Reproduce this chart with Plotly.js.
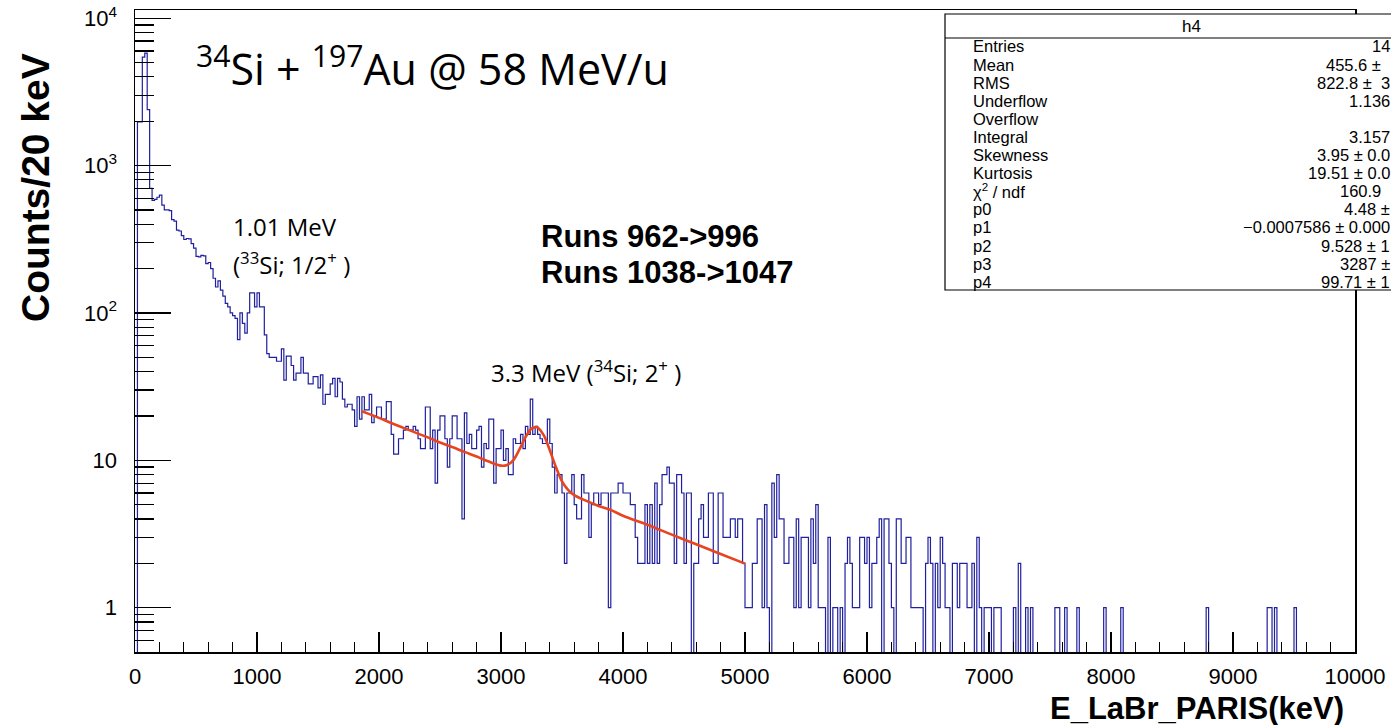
<!DOCTYPE html>
<html>
<head>
<meta charset="utf-8">
<script src="https://cdn.plot.ly/plotly-3.0.1.min.js"></script>
<style>
  html, body { margin: 0; padding: 0; background: #ffffff; }
  #chart { width: 1391px; height: 725px; }
</style>
</head>
<body>
<div id="chart"></div>
<script>
// ---------------- DATA ----------------
const binWidthKeV = 20;
// counts per 20 keV bin, bins from 0 to 10000 keV
const counts = [
  0, 1980, 1980, 5450, 5800, 2400, 700, 580, 590, 610,
  630, 540, 500, 500, 495, 430, 420, 365, 360, 335,
  315, 320, 318, 295, 275, 242, 240, 246, 244, 216,
  220, 200, 172, 150, 165, 143, 130, 116, 110, 100,
  96, 92, 66, 100, 85, 73, 100, 137, 137, 110,
  137, 110, 110, 71, 53, 50, 50, 50, 47, 47,
  57, 35, 51, 51, 44, 35, 39, 39, 50, 39,
  39, 33, 33, 37, 37, 31, 38, 24, 28, 28,
  33, 36, 27, 36, 34, 26, 23, 24, 24, 22,
  17, 27, 19, 27, 22, 22, 28, 18, 20, 23,
  23, 19, 19, 25, 25, 15, 11, 11, 14, 14,
  16, 17, 16, 16, 17, 16, 14, 12, 12, 23,
  23, 12, 16, 7, 16, 20, 20, 14, 9, 14,
  20, 20, 14, 14, 4, 21, 13, 15, 12, 12,
  16, 17, 9, 13, 12, 19, 19, 7, 12, 12,
  16, 10, 12, 8, 8, 14, 13, 13, 15, 12,
  17, 15, 26, 15, 17, 15, 14, 13, 13, 19,
  13, 9, 6, 8, 8, 6, 2, 6, 6, 8,
  5, 4, 4, 8, 6, 6, 3, 5, 6, 6,
  5, 6, 6, 6, 1, 6, 6, 6, 7, 7,
  6, 6, 6, 5, 5, 3, 2, 2, 2, 5,
  2, 5, 2, 7, 2, 5, 8, 8, 9, 7,
  7, 2, 8, 8, 6, 2, 6, 6, 0, 2,
  2, 4, 5, 3, 3, 6, 6, 2, 2, 6,
  6, 3, 3, 3, 4, 4, 3, 4, 4, 2,
  1, 1, 1, 2, 2, 4, 4, 1, 5, 1,
  0, 7, 3, 8, 4, 4, 2, 2, 3, 3,
  1, 4, 1, 3, 3, 3, 1, 4, 2, 5,
  1, 1, 1, 0, 3, 0, 1, 1, 0, 1,
  0, 2, 3, 2, 1, 1, 1, 3, 3, 2,
  3, 1, 2, 2, 3, 4, 0, 4, 4, 2,
  1, 0, 4, 4, 2, 2, 3, 3, 1, 1,
  1, 1, 1, 0, 2, 3, 2, 0, 2, 1,
  3, 2, 1, 1, 0, 2, 2, 1, 2, 2,
  2, 1, 1, 2, 0, 3, 1, 0, 1, 1,
  1, 0, 1, 1, 1, 0, 0, 0, 0, 0,
  1, 0, 2, 0, 0, 1, 0, 1, 0, 0,
  0, 0, 0, 0, 0, 0, 0, 1, 1, 0,
  0, 1, 0, 0, 0, 0, 1, 0, 0, 0,
  0, 0, 0, 0, 0, 0, 0, 1, 0, 0,
  0, 0, 0, 0, 1, 0, 0, 0, 0, 0,
  0, 0, 0, 0, 0, 0, 0, 0, 0, 0,
  0, 0, 0, 0, 0, 0, 0, 0, 0, 0,
  0, 0, 0, 0, 0, 0, 0, 0, 0, 1,
  0, 0, 0, 0, 0, 0, 0, 0, 0, 0,
  0, 0, 0, 0, 0, 0, 0, 0, 0, 0,
  0, 0, 0, 0, 1, 1, 0, 1, 0, 0,
  0, 0, 0, 0, 0, 1, 0, 0, 0, 0,
  0, 0, 0, 0, 0, 0, 0, 0, 0, 0,
  0, 0, 0, 0, 0, 0, 0, 0, 0, 0
];

// fit curve (red)
const fitEnergyKeV = [1860, 1900, 2000, 2100, 2200, 2300, 2400, 2500, 2600, 2700, 2800, 2900,
  3000, 3050, 3100, 3150, 3200, 3250, 3290, 3300, 3350, 3400, 3450, 3500, 3550, 3600,
  3700, 3800, 3900, 4000, 4200, 4400, 4600, 4800, 5000];
const fitCounts = [21.5, 20.9, 19.4, 17.9, 16.6, 15.4, 14.3, 13.2, 12.3, 11.4, 10.6, 9.8,
  9.2, 9.3, 10.0, 11.8, 14.3, 16.4, 16.8, 16.7, 14.8, 11.7, 9.0, 7.2, 6.3, 5.8,
  5.3, 4.9, 4.6, 4.2, 3.65, 3.13, 2.69, 2.31, 1.99];

// axis tick values
const xMajorTicks = [0, 1000, 2000, 3000, 4000, 5000, 6000, 7000, 8000, 9000, 10000];
const xMinorTicks = [200, 400, 600, 800, 1200, 1400, 1600, 1800, 2200, 2400, 2600, 2800,
  3200, 3400, 3600, 3800, 4200, 4400, 4600, 4800, 5200, 5400, 5600, 5800, 6200, 6400, 6600, 6800,
  7200, 7400, 7600, 7800, 8200, 8400, 8600, 8800, 9200, 9400, 9600, 9800];
const yMajorTicks = [1, 10, 100, 1000, 10000];
const yMajorLabels = ['1', '10', '10<sup>2</sup>', '10<sup>3</sup>', '10<sup>4</sup>'];
const yMinorTicks = [0.6, 0.7, 0.8, 0.9, 2, 3, 4, 5, 6, 7, 8, 9, 20, 30, 40, 50, 60, 70, 80, 90,
  200, 300, 400, 500, 600, 700, 800, 900, 2000, 3000, 4000, 5000, 6000, 7000, 8000, 9000];

// statistics box (visible part)
const statsTitle = "h4";
const statsLabels = ["Entries", "Mean", "RMS", "Underflow", "Overflow", "Integral", "Skewness",
  "Kurtosis", "χ<sup>2</sup> / ndf", "p0", "p1", "p2", "p3", "p4"];
const statsValues = ["14", "455.6 ±  ", "822.8 ±  3", "1.136", "", "3.157", "3.95 ± 0.0",
  "19.51 ± 0.0", "160.9  ", "4.48 ±", "−0.0007586 ± 0.000", "9.528 ± 1", "3287 ±", "99.71 ± 1"];

// ---------------- DRAWING ----------------
const stepX = [], stepY = [];
for (let i = 0; i < counts.length; i++) {
  stepX.push(i * binWidthKeV);
  stepY.push(counts[i] > 0 ? counts[i] : 0.1); // empty bins drop below the frame (log scale)
}
stepX.push(counts.length * binWidthKeV);
stepY.push(counts[counts.length - 1] > 0 ? counts[counts.length - 1] : 0.1);

const W = 1391, H = 725;
const L = 135, R = 1355, T = 10, B = 652;
const px = x => (x - L) / (R - L);
const py = y => (B - y) / (B - T);

const rootFont = "Liberation Sans, Arial, Helvetica, sans-serif";
const slideFont = "Open Sans, Noto Sans, sans-serif";
const yRange = [Math.log10(0.5), 4.056];
const xRange = [0, 10000];

const traces = [
  {
    x: stepX, y: stepY, type: 'scatter', mode: 'lines',
    line: { shape: 'hv', color: '#20209f', width: 1.2 },
    hoverinfo: 'skip', showlegend: false
  },
  {
    x: fitEnergyKeV, y: fitCounts, type: 'scatter', mode: 'lines',
    line: { shape: 'spline', color: '#e8441f', width: 2.6 },
    hoverinfo: 'skip', showlegend: false
  },
  // invisible helper traces so the overlay tick axes are drawn
  { x: [0], y: [1], xaxis: 'x2', yaxis: 'y2', type: 'scatter', mode: 'lines',
    line: { width: 0 }, hoverinfo: 'skip', showlegend: false },
  { x: [0], y: [1], xaxis: 'x3', yaxis: 'y3', type: 'scatter', mode: 'lines',
    line: { width: 0 }, hoverinfo: 'skip', showlegend: false }
];

const annotations = [];
// axis titles
annotations.push({
  xref: 'paper', yref: 'paper', x: px(35), y: py(188), text: '<b>Counts/20 keV</b>',
  textangle: -90, showarrow: false, xanchor: 'center', yanchor: 'middle',
  font: { family: rootFont, size: 39, color: '#000' }
});
annotations.push({
  xref: 'paper', yref: 'paper', x: px(1346), y: py(708), text: '<b>E_LaBr_PARIS(keV)</b>',
  showarrow: false, xanchor: 'right', yanchor: 'middle',
  font: { family: rootFont, size: 31, color: '#000' }
});
// slide texts
annotations.push({
  xref: 'paper', yref: 'paper', x: px(194), y: py(66),
  text: '<sup>34</sup>Si + <sup>197</sup>Au @ 58 MeV/u',
  showarrow: false, xanchor: 'left', yanchor: 'middle',
  font: { family: slideFont, size: 43, color: '#000' }
});
annotations.push({
  xref: 'paper', yref: 'paper', x: px(231), y: py(226), text: '1.01 MeV',
  showarrow: false, xanchor: 'left', yanchor: 'middle',
  font: { family: slideFont, size: 24, color: '#000' }
});
annotations.push({
  xref: 'paper', yref: 'paper', x: px(231), y: py(263), text: '(<sup>33</sup>Si; 1/2<sup>+</sup> )',
  showarrow: false, xanchor: 'left', yanchor: 'middle',
  font: { family: slideFont, size: 24, color: '#000' }
});
annotations.push({
  xref: 'paper', yref: 'paper', x: px(489), y: py(372), text: '3.3 MeV (<sup>34</sup>Si; 2<sup>+</sup> )',
  showarrow: false, xanchor: 'left', yanchor: 'middle',
  font: { family: slideFont, size: 24, color: '#000' }
});
annotations.push({
  xref: 'paper', yref: 'paper', x: px(539), y: py(236), text: '<b>Runs 962->996</b>',
  showarrow: false, xanchor: 'left', yanchor: 'middle',
  font: { family: rootFont, size: 31, color: '#000' }
});
annotations.push({
  xref: 'paper', yref: 'paper', x: px(539), y: py(272), text: '<b>Runs 1038->1047</b>',
  showarrow: false, xanchor: 'left', yanchor: 'middle',
  font: { family: rootFont, size: 31, color: '#000' }
});
// stats box
annotations.push({
  xref: 'paper', yref: 'paper', x: px(1191), y: py(27), text: statsTitle,
  showarrow: false, xanchor: 'center', yanchor: 'middle',
  font: { family: rootFont, size: 17, color: '#000' }
});
const rowTop = 46.5, rowStep = 18.1;
statsLabels.forEach((lab, i) => {
  const yy = rowTop + i * rowStep;
  annotations.push({
    xref: 'paper', yref: 'paper', x: px(971), y: py(yy), text: lab,
    showarrow: false, xanchor: 'left', yanchor: 'middle',
    font: { family: rootFont, size: 16.5, color: '#000' }
  });
  if (statsValues[i]) {
    annotations.push({
      xref: 'paper', yref: 'paper', x: px(1392), y: py(yy), text: statsValues[i],
      showarrow: false, xanchor: 'right', yanchor: 'middle',
      font: { family: rootFont, size: 16.5, color: '#000' }
    });
  }
});

const shapes = [
  { type: 'rect', xref: 'paper', yref: 'paper', x0: px(945), x1: px(1440), y0: py(290), y1: py(14),
    line: { color: '#000', width: 1.2 }, fillcolor: '#ffffff', layer: 'above' },
  { type: 'line', xref: 'paper', yref: 'paper', x0: px(945), x1: px(1440), y0: py(38), y1: py(38),
    line: { color: '#000', width: 1.2 }, layer: 'above' }
];

const tickOnly = { ticks: 'inside', tickwidth: 1.2, tickcolor: '#000', showgrid: false, zeroline: false,
  showticklabels: false, showline: false, tickmode: 'array' };

const layout = {
  width: W, height: H,
  margin: { l: L, r: W - R, t: T, b: H - B, pad: 0 },
  paper_bgcolor: '#ffffff', plot_bgcolor: 'rgba(0,0,0,0)',
  showlegend: false,
  xaxis: {
    range: xRange, showgrid: false, zeroline: false,
    showline: true, mirror: true, linecolor: '#000', linewidth: 1.5,
    ticks: '', tickmode: 'array', tickvals: xMajorTicks, ticktext: xMajorTicks.map(String),
    tickfont: { family: rootFont, size: 22, color: '#000' }, ticklabelstandoff: 4
  },
  xaxis2: Object.assign({}, tickOnly, {
    range: xRange, overlaying: 'x', side: 'bottom', anchor: 'y', ticklen: 10, tickvals: xMinorTicks
  }),
  xaxis3: Object.assign({}, tickOnly, {
    range: xRange, overlaying: 'x', side: 'bottom', anchor: 'y', ticklen: 20, tickvals: xMajorTicks
  }),
  yaxis: {
    type: 'log', range: yRange, showgrid: false, zeroline: false,
    showline: true, mirror: true, linecolor: '#000', linewidth: 1.5,
    ticks: '', tickmode: 'array', tickvals: yMajorTicks, ticktext: yMajorLabels,
    tickfont: { family: rootFont, size: 22, color: '#000' }, ticklabelstandoff: 12
  },
  yaxis2: Object.assign({}, tickOnly, {
    type: 'log', range: yRange, overlaying: 'y', side: 'left', anchor: 'x', ticklen: 19, tickvals: yMinorTicks
  }),
  yaxis3: Object.assign({}, tickOnly, {
    type: 'log', range: yRange, overlaying: 'y', side: 'left', anchor: 'x', ticklen: 36, tickvals: yMajorTicks
  }),
  annotations: annotations,
  shapes: shapes
};

Plotly.newPlot('chart', traces, layout, { staticPlot: true, displayModeBar: false });
</script>
</body>
</html>
